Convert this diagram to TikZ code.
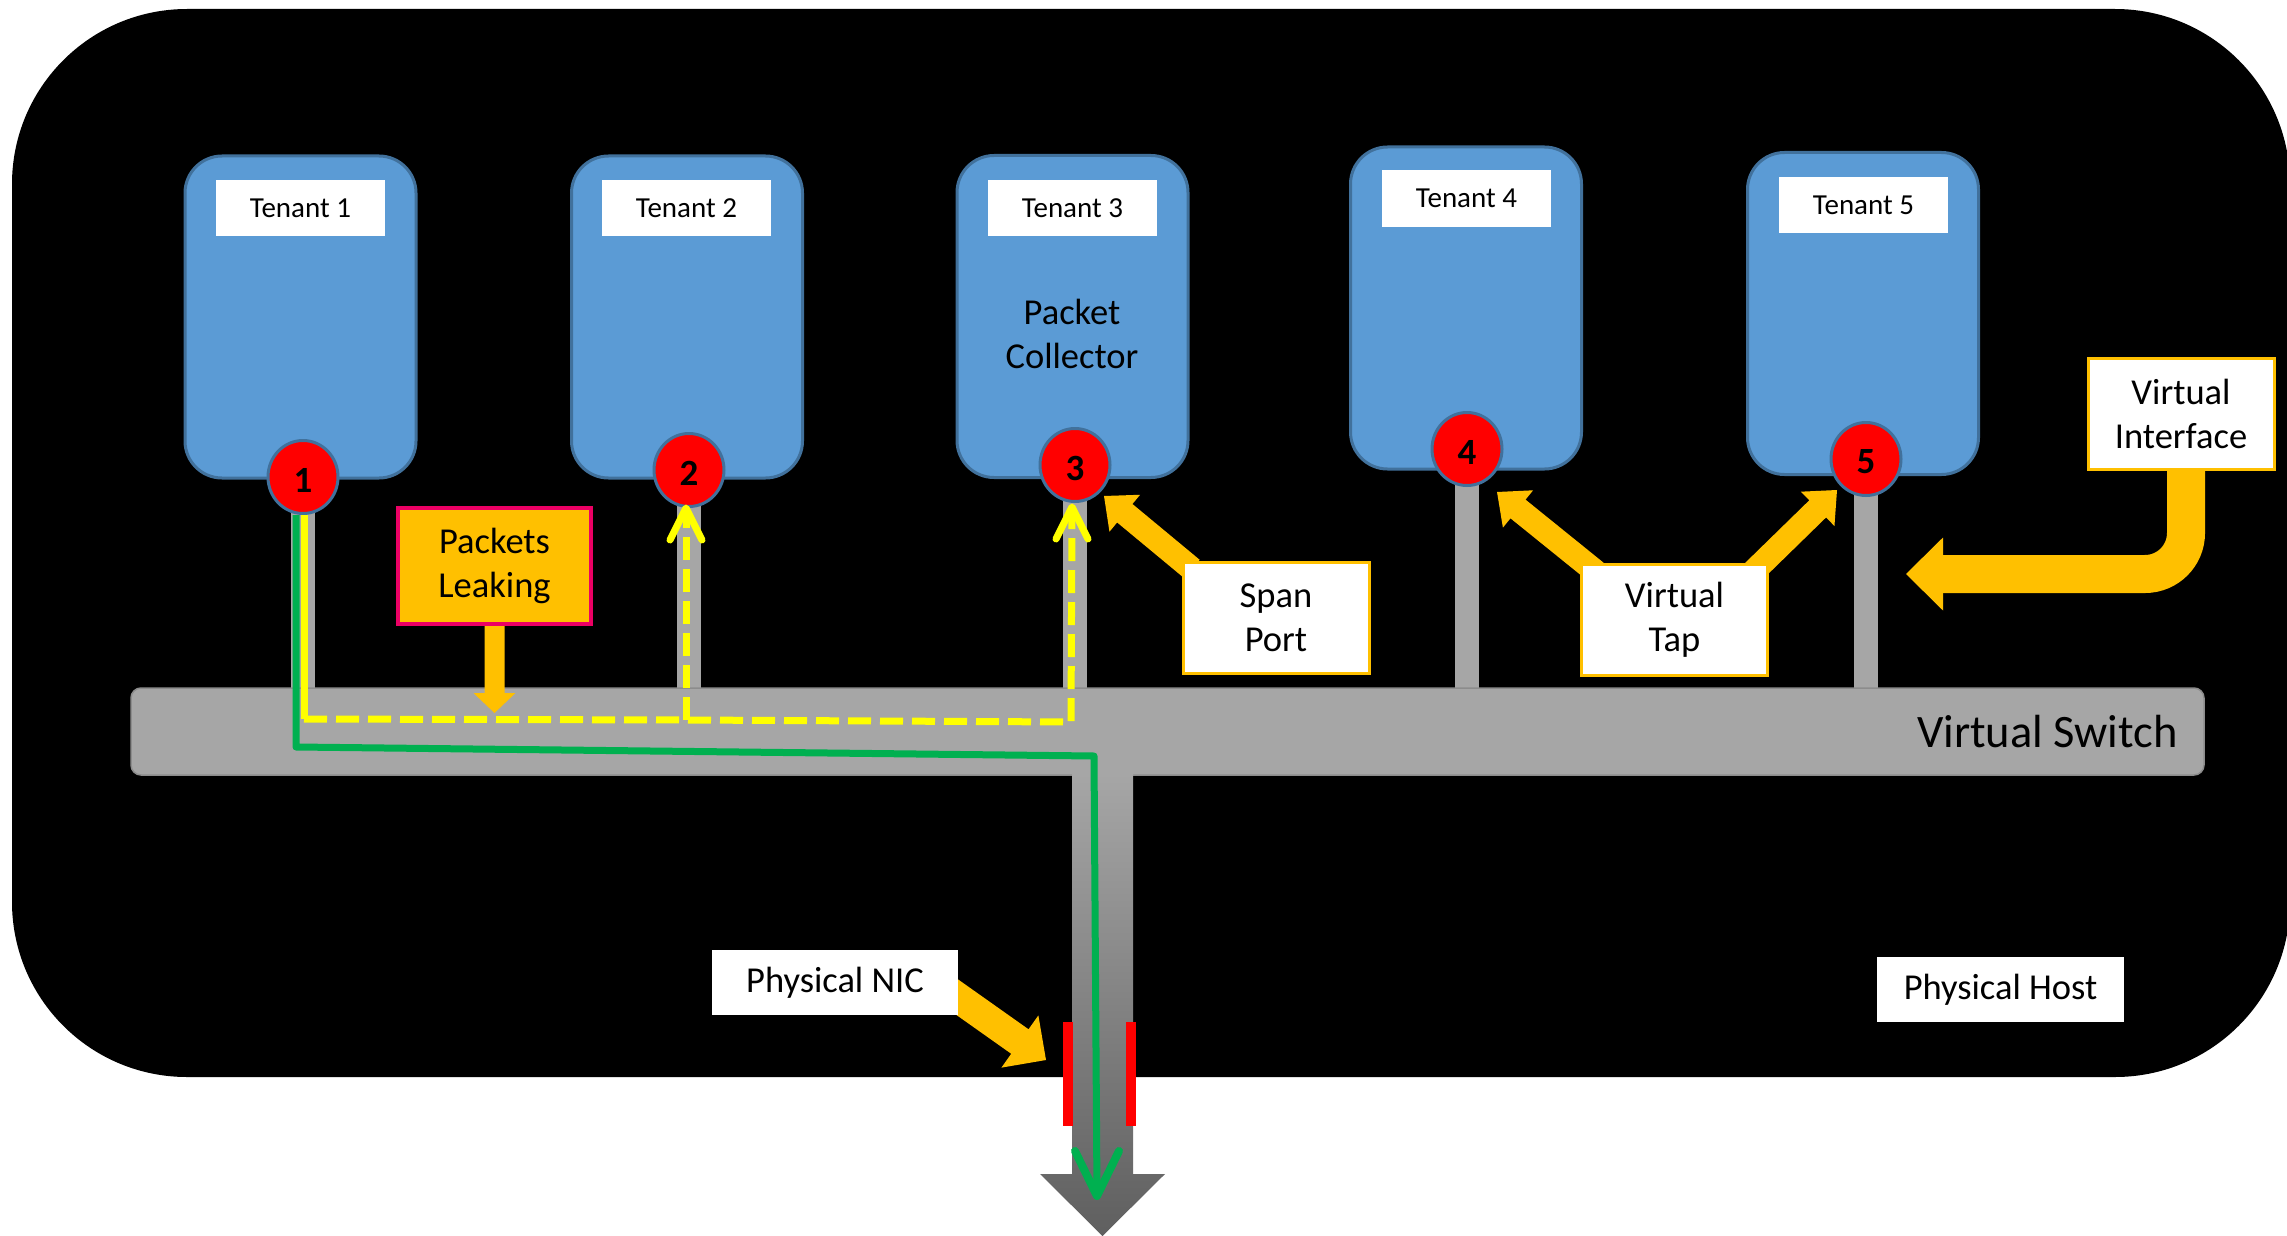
\documentclass[tikz,border=0pt]{standalone}
\usepackage{fontspec}
\setmainfont{Carlito}
\usetikzlibrary{calc}
\definecolor{tblue}{HTML}{5B9BD5}
\definecolor{tedge}{HTML}{41719C}
\definecolor{vgray}{HTML}{A6A6A6}
\definecolor{vgrayedge}{HTML}{8C8C8C}
\definecolor{gold}{HTML}{FFC000}
\definecolor{yel}{HTML}{FFFF00}
\definecolor{grn}{HTML}{00B050}
\definecolor{pinkedge}{HTML}{EC0064}
\definecolor{darkg}{HTML}{5F5F5F}
\newcommand\FtSmall{\fontsize{29pt}{35pt}\selectfont}
\newcommand\FtMid{\fontsize{36.5pt}{44pt}\selectfont}
\newcommand\FtBig{\fontsize{46.5pt}{56pt}\selectfont}
\newcommand\FtNum{\bfseries\fontsize{37pt}{42pt}\selectfont}
% tail, tip, half shaft, half head, head length
\newcommand\blockarrow[5]{%
  \coordinate (bah) at ($(#2)!#5!(#1)$);
  \fill[gold] ($(#1)!#3!90:(#2)$) -- ($(bah)!#3!90:(#2)$) -- ($(bah)!#4!90:(#2)$) -- (#2)
    -- ($(bah)!#4!-90:(#2)$) -- ($(bah)!#3!-90:(#2)$) -- ($(#1)!#3!-90:(#2)$) -- cycle;}
\tikzset{
  tenant/.style={draw=tedge, fill=tblue, line width=3pt, rounded corners=37pt,
    minimum width=231pt, minimum height=322pt, inner sep=0pt},
  tlabel/.style={fill=white, minimum width=169pt, minimum height=56pt, inner sep=0pt, font=\FtSmall},
  port/.style={ellipse, draw=tedge, fill=red, line width=3pt, minimum width=70pt, minimum height=73pt,
    inner sep=0pt},
  portnum/.style={inner sep=0pt, font=\FtNum, yshift=-3pt},
  callout/.style={draw=gold, fill=white, line width=3pt, minimum width=186pt, minimum height=111pt,
    inner sep=0pt, align=center, font=\FtMid},
  plainlabel/.style={fill=white, inner sep=0pt, font=\FtMid},
  stub/.style={draw=vgray, line width=24pt},
  switchbox/.style={draw=vgrayedge, fill=vgray, line width=1.5pt, rounded corners=10pt,
    minimum width=2073pt, minimum height=87pt, inner sep=0pt},
  yline/.style={draw=yel, line width=7pt},
  ydash/.style={yline, dash pattern=on 23pt off 9pt},
  ychev/.style={draw=yel, line width=7pt, line cap=round, line join=round},
  gline/.style={draw=grn, line width=7pt, line join=round},
  gchev/.style={draw=grn, line width=8pt, line cap=round, line join=round},
}
\usetikzlibrary{shapes.geometric}
\begin{document}
\begin{tikzpicture}[x=1pt,y=-1pt]
\useasboundingbox (0,0) rectangle (2287,1236);
\fill[white] (0,0) rectangle (2287,1236);
\begin{scope}
\clip (0,0) rectangle (2287,1236);
\fill[black, rounded corners=175pt] (12,9) rectangle (2290,1077);
\end{scope}

% tenants
\node[tenant] (t1) at (300.5,317) {};
\node[tenant] (t2) at (687,317) {};
\node[tenant] (t3) at (1072.5,316.5) {};
\node[tenant] (t4) at (1466,308) {};
\node[tenant] (t5) at (1863,313.5) {};

\node[tlabel] (l1) at (300.5,208) {Tenant 1};
\node[tlabel] (l2) at (686.5,208) {Tenant 2};
\node[tlabel] (l3) at (1072.5,208) {Tenant 3};
\node[tlabel] (l4) at (1466.5,198.5) {Tenant 4};
\node[tlabel] (l5) at (1863.5,205) {Tenant 5};
\node[font=\FtMid, align=center, inner sep=0pt] (pc) at (1072,334) {Packet\\Collector};

% port positions
\coordinate (p1) at (303,477);
\coordinate (p2) at (689,470);
\coordinate (p3) at (1075,465);
\coordinate (p4) at (1467,449);
\coordinate (p5) at (1866,459);
\coordinate (swtop) at (0,692);

% stubs
\foreach \p in {p1,p2,p3,p4,p5} \draw[stub] (\p) -- (\p |- swtop);

% virtual switch
\node[switchbox] (sw) at (1167.5,731.5) {};
\node[anchor=base east, font=\FtBig, inner sep=0pt] (vst) at (2178,747) {Virtual Switch};

% physical uplink arrow
\shade[top color=vgray, bottom color=darkg]
  (1072,773) -- (1072,1174) -- (1040,1174) -- (1102.5,1236) -- (1165,1174)
  -- (1133,1174) -- (1133,773) -- cycle;
\fill[red] (1063,1022) rectangle (1073,1126);
\fill[red] (1126,1022) rectangle (1136,1126);

% ports
\node[port] (c1) at (p1) {};
\node[port] (c2) at (p2) {};
\node[port] (c3) at (p3) {};
\node[port] (c4) at (p4) {};
\node[port] (c5) at (p5) {};
\node[portnum] (n1) at (c1) {1};
\node[portnum] (n2) at (c2) {2};
\node[portnum] (n3) at (c3) {3};
\node[portnum] (n4) at (c4) {4};
\node[portnum] (n5) at (c5) {5};

% leaking path (yellow)
\coordinate (yk1) at (304,719);
\coordinate (yk2) at (686,720);
\coordinate (yk3) at (1071,722);
\coordinate (yt2) at (686,508);
\coordinate (yt3) at (1072,507);
\draw[yline] (c1.south -| yk1) -- (yk1);
\draw[ydash] (yk1) -- (yk2) -- (yk3) -- (yt3);
\draw[ydash] (yk2) -- (yt2);
\draw[ychev] (yt2) ++(-16,32) -- (yt2) -- ++(16,32);
\draw[ychev] (yt3) ++(-16,32) -- (yt3) -- ++(16,32);

% normal path (green)
\coordinate (gk1) at (296,747);
\coordinate (gk2) at (1094,756);
\coordinate (gt) at (1097,1196);
\draw[gline] (c1.south -| gk1) -- (gk1) -- (gk2) -- (gt);
\draw[gchev] (gt) ++(-22,-45) -- (gt) -- ++(22,-45);

% callout arrows
\coordinate (plT) at (494.5,626);
\coordinate (plH) at (494.5,713);
\blockarrow{plT}{plH}{10pt}{21pt}{20pt}
\coordinate (spT) at (1192,569);
\coordinate (spH) at (1104,496);
\blockarrow{spT}{spH}{12pt}{24pt}{27pt}
\coordinate (vtT1) at (1596,572);
\coordinate (vtH1) at (1497,492);
\blockarrow{vtT1}{vtH1}{12pt}{24pt}{27pt}
\coordinate (vtT2) at (1753,572);
\coordinate (vtH2) at (1837,490);
\blockarrow{vtT2}{vtH2}{12pt}{24pt}{27pt}
\coordinate (nicT) at (940,985);
\coordinate (nicH) at (1046,1060);
\blockarrow{nicT}{nicH}{15pt}{32pt}{32pt}
\coordinate (viT) at (2186,460);
\coordinate (viK) at (2186,574);
\coordinate (viE) at (1940,574);
\coordinate (viH) at (1906,574);
\draw[gold, line width=38pt, rounded corners=41pt] (viT) -- (viK) -- (viE);
\fill[gold] ($(viH)+(37,-36.5)$) -- (viH) -- ($(viH)+(37,36.5)$) -- cycle;

% labels
\node[draw=pinkedge, fill=gold, line width=4pt, minimum width=193pt, minimum height=116pt,
  inner sep=0pt, align=center, font=\FtMid] (pl) at (494.5,566) {Packets\\Leaking};
\node[callout] (sp) at (1276,617.5) {Span\\Port};
\node[callout] (vt) at (1674.5,619.5) {Virtual\\Tap};
\node[callout] (vi) at (2181,413.5) {Virtual\\Interface};
\node[plainlabel, minimum width=246pt, minimum height=65pt] (nic) at (835,982.5) {Physical NIC};
\node[plainlabel, minimum width=247pt, minimum height=65pt] (host) at (2000.5,989.5) {Physical Host};
\end{tikzpicture}
\end{document}
